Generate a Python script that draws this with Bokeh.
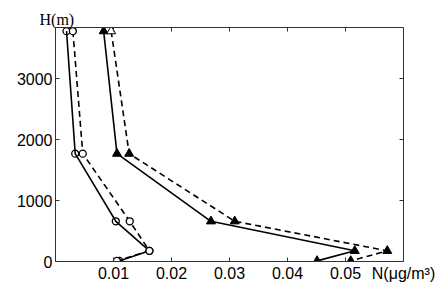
from bokeh.plotting import figure
from bokeh.models import LinearAxis, FixedTicker, Range1d
from bokeh.embed import file_html
from bokeh.resources import INLINE

# ---- data ----
H = [3780, 1770, 660, 175, 10]                       # height (m)
N_circ_solid = [0.0019, 0.0034, 0.0104, 0.0162, 0.0110]
N_circ_dash = [0.0030, 0.0047, 0.0128, 0.0162, 0.0106]
N_tri_solid = [0.0083, 0.0106, 0.0268, 0.0516, 0.0451]
N_tri_dash = [0.0096, 0.0127, 0.0309, 0.0572, 0.0509]
x_ticks = [0.01, 0.02, 0.03, 0.04, 0.05]
y_ticks = [0, 1000, 2000, 3000]
x_lim = (0, 0.06)
y_lim = (0, 3840)
x_title = "N(\u03bcg/m\u00b3)"
y_title = "H(m)"

# ---- styles ----
tri_dash_fill = ["white", "black", "black", "black", "black"]

p = figure(width=436, height=284, x_range=Range1d(*x_lim), y_range=Range1d(*y_lim),
           output_backend="svg", toolbar_location=None,
           min_border_left=55, min_border_right=33, min_border_top=27, min_border_bottom=21,
           x_axis_location=None, y_axis_location=None)
p.xgrid.visible = False
p.ygrid.visible = False
p.outline_line_color = None
p.background_fill_color = "white"
p.border_fill_color = "white"

AX = "#333333"


def style(ax, ticks, labels=True):
    ax.ticker = FixedTicker(ticks=ticks)
    ax.axis_line_color = AX
    ax.axis_line_width = 1
    ax.major_tick_line_color = AX
    ax.major_tick_in = 4
    ax.major_tick_out = 0
    ax.minor_tick_line_color = None
    ax.major_label_text_font = "Liberation Sans"
    ax.major_label_text_font_size = "16px"
    ax.major_label_text_color = "black"
    ax.major_label_standoff = 3
    if not labels:
        ax.major_label_overrides = {t: "" for t in ticks}
        ax.major_label_standoff = 0


# bottom axis: the x title sits in the tick-label row at the right edge
bx = LinearAxis()
style(bx, x_ticks + [x_lim[1]])
bx.major_label_overrides = {**{t: f"{t:g}" for t in x_ticks}, x_lim[1]: x_title}
p.add_layout(bx, "below")
ly = LinearAxis()
style(ly, y_ticks)
p.add_layout(ly, "left")
tx = LinearAxis()
style(tx, x_ticks, labels=False)
p.add_layout(tx, "above")
ry = LinearAxis()
style(ry, y_ticks, labels=False)
p.add_layout(ry, "right")

# y title above the top-left corner
p.title.text = y_title
p.title.align = "left"
p.title.offset = -16
p.title.standoff = 0
p.title.text_font = "Liberation Serif"
p.title.text_font_size = "16px"
p.title.text_font_style = "normal"
p.title.text_color = "black"

# ---- series ----
p.line(N_circ_solid, H, line_color="black", line_width=1.6)
p.line(N_circ_dash, H, line_color="black", line_width=1.6, line_dash="6 4")
p.line(N_tri_solid, H, line_color="black", line_width=1.6)
p.line(N_tri_dash, H, line_color="black", line_width=1.6, line_dash="6 4")

p.scatter(N_circ_solid, H, marker="circle", size=7, line_color="black",
          line_width=1.3, fill_alpha=0)
p.scatter(N_circ_dash, H, marker="circle", size=7, line_color="black",
          line_width=1.3, fill_color="white")
p.scatter(N_tri_solid, H, marker="triangle", size=9, line_color="black",
          line_width=1, fill_color="black")
p.scatter(N_tri_dash, H, marker="triangle", size=9, line_color="black",
          line_width=1, fill_color=tri_dash_fill)

open("out.html", "w").write(file_html(p, INLINE))
